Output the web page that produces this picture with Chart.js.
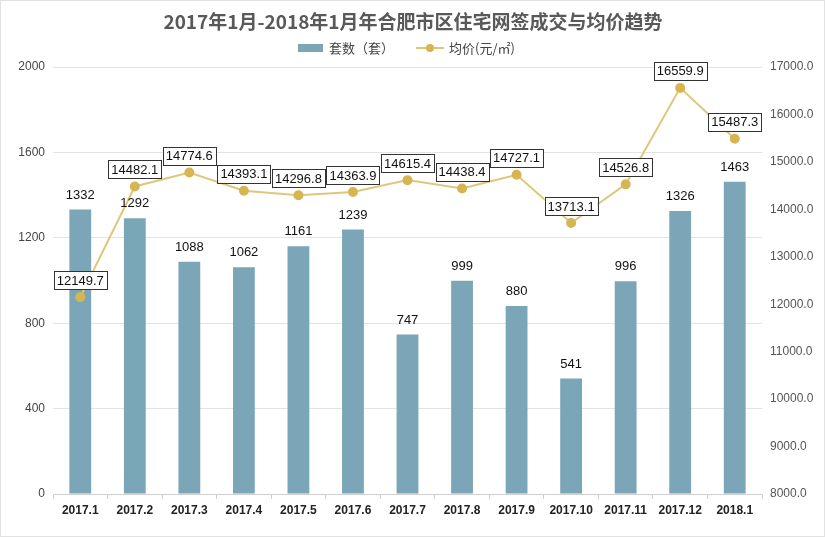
<!DOCTYPE html>
<html><head><meta charset="utf-8">
<script src="https://cdn.jsdelivr.net/npm/chart.js@4/dist/chart.umd.min.js"></script>
<style>
html,body{margin:0;padding:0;background:#fff;}
#wrap{width:825px;height:537px;position:relative;box-sizing:border-box;border:1px solid #e2e2e2;}
canvas{display:block;}
</style></head>
<body><div id="wrap"><canvas id="c" width="823" height="535"></canvas></div>
<script>
const titleText = '2017年1月-2018年1月年合肥市区住宅网签成交与均价趋势';
const categories = ['2017.1','2017.2','2017.3','2017.4','2017.5','2017.6','2017.7','2017.8','2017.9','2017.10','2017.11','2017.12','2018.1'];
const unitsSold = [1332,1292,1088,1062,1161,1239,747,999,880,541,996,1326,1463];
const avgPrice = [12149.7,14482.1,14774.6,14393.1,14296.8,14363.9,14615.4,14438.4,14727.1,13713.1,14526.8,16559.9,15487.3];
const seriesNames = ['套数（套）','均价(元/㎡)'];

const BAR_COLOR = '#7ba6b8';
const LINE_COLOR = '#dfc77a';
const POINT_COLOR = '#d6b552';
const NUM_FONT = '"Liberation Sans", Arial, sans-serif';
const CJK_FONT = '"Noto Sans CJK SC", "Liberation Sans", sans-serif';

const decor = {
  id: 'decor',
  afterDraw(chart) {
    const ctx = chart.ctx;
    ctx.save();
    // title
    ctx.font = 'bold 19px ' + CJK_FONT;
    ctx.fillStyle = '#595959';
    ctx.textAlign = 'center';
    ctx.textBaseline = 'middle';
    ctx.fillText(titleText, 412, 21);
    // legend
    ctx.font = '13px ' + CJK_FONT;
    ctx.textAlign = 'left';
    ctx.fillStyle = BAR_COLOR;
    ctx.fillRect(297, 43, 25, 8);
    ctx.fillStyle = '#444';
    ctx.fillText(chart.data.datasets[0].label, 328, 47);
    ctx.strokeStyle = LINE_COLOR; ctx.lineWidth = 2;
    ctx.beginPath(); ctx.moveTo(415, 47); ctx.lineTo(443, 47); ctx.stroke();
    ctx.fillStyle = POINT_COLOR;
    ctx.beginPath(); ctx.arc(429, 47, 4, 0, Math.PI*2); ctx.fill();
    ctx.fillStyle = '#444';
    ctx.fillText(chart.data.datasets[1].label, 448, 47);

    // bar value labels
    ctx.font = '13px ' + NUM_FONT;
    ctx.textAlign = 'center';
    ctx.textBaseline = 'bottom';
    ctx.fillStyle = '#111';
    chart.getDatasetMeta(0).data.forEach((el, i) => {
      ctx.fillText(String(chart.data.datasets[0].data[i]), el.x, el.y - 8);
    });
    // line value boxed labels
    chart.getDatasetMeta(1).data.forEach((el, i) => {
      const txt = chart.data.datasets[1].data[i].toFixed(1);
      const w = ctx.measureText(txt).width + 6;
      const h = 18;
      const bx = el.x - w/2, by = el.y - 8 - h;
      ctx.fillStyle = '#fff';
      ctx.fillRect(bx, by, w, h);
      ctx.strokeStyle = '#333'; ctx.lineWidth = 1;
      ctx.strokeRect(Math.round(bx)+0.5, Math.round(by)+0.5, Math.round(w), h);
      ctx.fillStyle = '#111';
      ctx.textBaseline = 'middle';
      ctx.fillText(txt, el.x, by + h/2 + 1);
    });
    ctx.restore();
  }
};

new Chart(document.getElementById('c'), {
  data: {
    labels: categories,
    datasets: [
      { type: 'bar', label: seriesNames[0], data: unitsSold, backgroundColor: BAR_COLOR,
        yAxisID: 'y', barPercentage: 0.5, categoryPercentage: 0.8, order: 2 },
      { type: 'line', label: seriesNames[1], data: avgPrice, borderColor: LINE_COLOR, borderWidth: 2,
        pointBackgroundColor: POINT_COLOR, pointBorderColor: POINT_COLOR, pointRadius: 4,
        yAxisID: 'y1', tension: 0, order: 1 }
    ]
  },
  options: {
    responsive: false,
    animation: false,
    layout: { padding: { top: 66, left: 0, right: 0, bottom: 0 } },
    plugins: { legend: { display: false }, title: { display: false }, tooltip: { enabled: false } },
    scales: {
      x: {
        offset: true,
        grid: { display: true, drawOnChartArea: false, drawTicks: true, tickLength: 5, color: '#cfcfcf', offset: true },
        border: { display: true, color: '#cfcfcf' },
        ticks: { color: '#222', font: { family: NUM_FONT, size: 12, weight: 'bold' }, padding: 4, maxRotation: 0, autoSkip: false },
        afterFit(s) { s.height = 42; }
      },
      y: {
        position: 'left', min: 0, max: 2000,
        ticks: { stepSize: 400, color: '#444', font: { family: NUM_FONT, size: 12 }, padding: 8,
          callback: v => String(v) },
        grid: { color: '#e3e3e3', drawTicks: false },
        border: { display: false },
        afterFit(s) { s.width = 52; }
      },
      y1: {
        position: 'right', min: 8000, max: 17000,
        ticks: { stepSize: 1000, color: '#555', font: { family: NUM_FONT, size: 12 }, padding: 8,
          callback: v => Number(v).toFixed(1) },
        grid: { drawOnChartArea: false, drawTicks: false },
        border: { display: false },
        afterFit(s) { s.width = 62; }
      }
    }
  },
  plugins: [decor]
});
</script>
</body></html>
